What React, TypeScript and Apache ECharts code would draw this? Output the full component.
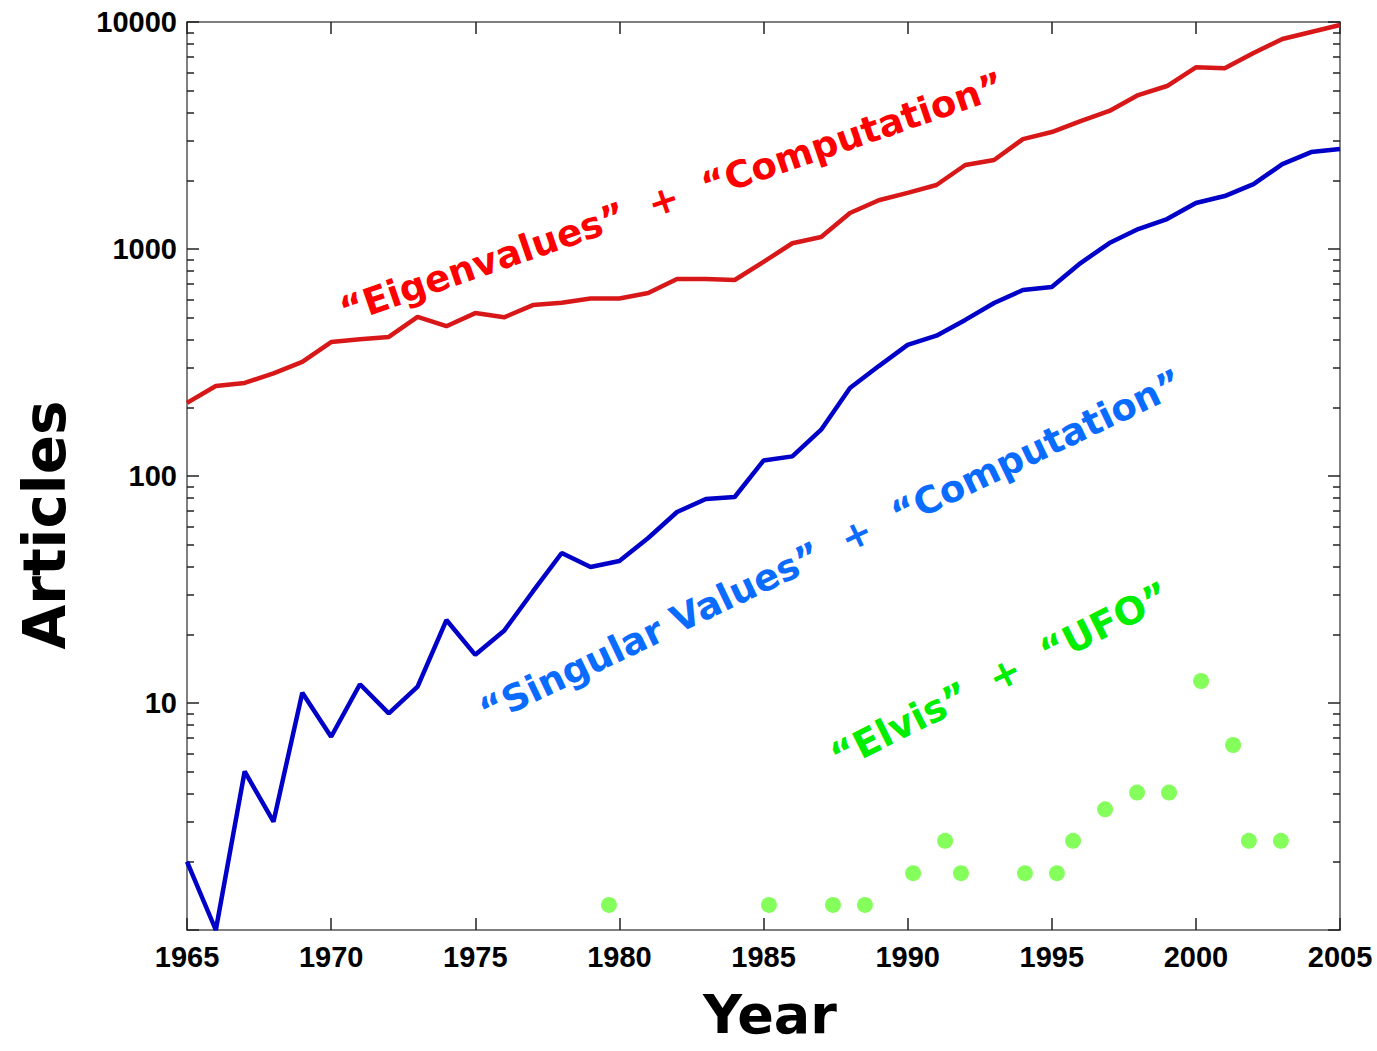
import { useEffect, useRef } from "react";
import * as echarts from "echarts";

const years = [
  1965, 1966, 1967, 1968, 1969, 1970, 1971, 1972, 1973, 1974,
  1975, 1976, 1977, 1978, 1979, 1980, 1981, 1982, 1983, 1984,
  1985, 1986, 1987, 1988, 1989, 1990, 1991, 1992, 1993, 1994,
  1995, 1996, 1997, 1998, 1999, 2000, 2001, 2002, 2003, 2004, 2005,
];

const eigenArticles = [
  210, 249, 257, 283, 318, 389, 400, 410, 502, 457,
  522, 500, 566, 580, 605, 605, 640, 738, 738, 730,
  877, 1060, 1130, 1440, 1640, 1766, 1914, 2344, 2466, 3050,
  3275, 3660, 4055, 4765, 5224, 6316, 6250, 7300, 8420, 9040, 9700,
];

const singularArticles = [
  2.0, 1.0, 5.0, 3.0, 11.1, 7.1, 12.1, 9.0, 11.8, 23.2,
  16.3, 20.8, 31, 45.8, 39.7, 42.2, 53.3, 69.4, 79.2, 80.8,
  117, 122, 160, 244, 305, 378, 415, 487, 578, 660,
  680, 867, 1062, 1224, 1355, 1595, 1711, 1932, 2366, 2673, 2756,
];

const elvisYears = [
  1979.64, 1985.19, 1987.41, 1988.52, 1990.19, 1991.3, 1991.85, 1994.07,
  1995.18, 1995.74, 1996.85, 1997.96, 1999.07, 2000.18, 2001.29, 2001.84, 2002.95,
];
const elvisArticles = [
  1.29, 1.29, 1.29, 1.29, 1.78, 2.47, 1.78, 1.78,
  1.78, 2.47, 3.4, 4.03, 4.03, 12.5, 6.53, 2.47, 2.47,
];

const xMin = 1965;
const xMax = 2005;
const xStep = 5;
const yMin = 1;
const yMax = 10000;

const labelEigen = "\u201CEigenvalues\u201D  +  \u201CComputation\u201D";
const labelSingular = "\u201CSingular Values\u201D  +  \u201CComputation\u201D";
const labelElvis = "\u201CElvis\u201D  +  \u201CUFO\u201D";

export default function App() {
  const ref = useRef<HTMLDivElement>(null);

  useEffect(() => {
    if (!ref.current) return;
    const chart = echarts.init(ref.current, null, { renderer: "svg" });
    const axisColor = "#555555";
    const tickFont = {
      fontFamily: "'Liberation Sans', Arial, sans-serif",
      fontWeight: "bold" as const,
      fontSize: 29,
      color: "#000",
    };
    const annFont = "'DejaVu Sans', sans-serif";
    const textStyle = (text: string, size: number, fill: string) => ({
      text,
      fontFamily: annFont,
      fontWeight: "bold",
      fontSize: size,
      fill,
      align: "center",
      verticalAlign: "middle",
      textAlign: "center",
      textVerticalAlign: "middle",
    });

    const option: any = {
      animation: false,
      backgroundColor: "#ffffff",
      grid: { left: 187, right: 37, top: 22, bottom: 121, containLabel: false },
      xAxis: [
        {
          type: "value",
          min: xMin,
          max: xMax,
          interval: xStep,
          position: "bottom",
          axisLine: { show: true, lineStyle: { color: axisColor, width: 1.5 } },
          axisTick: { show: true, inside: true, length: 12, lineStyle: { color: "#222", width: 1.5 } },
          axisLabel: { ...tickFont, margin: 12, formatter: (v: number) => String(v) },
          splitLine: { show: false },
        },
        {
          type: "value",
          min: xMin,
          max: xMax,
          interval: xStep,
          position: "top",
          axisLine: { show: true, lineStyle: { color: axisColor, width: 1.5 } },
          axisTick: { show: true, inside: true, length: 12, lineStyle: { color: "#222", width: 1.5 } },
          axisLabel: { show: false },
          splitLine: { show: false },
        },
      ],
      yAxis: [
        {
          type: "log",
          logBase: 10,
          min: yMin,
          max: yMax,
          position: "left",
          axisLine: { show: true, lineStyle: { color: axisColor, width: 1.5 } },
          axisTick: { show: true, inside: true, length: 12, lineStyle: { color: "#222", width: 1.5 } },
          minorTick: { show: true, splitNumber: 9, length: 7, lineStyle: { color: "#222", width: 1.5 } },
          axisLabel: {
            ...tickFont,
            margin: 10,
            formatter: (v: number) => (v <= 1 ? "" : String(Math.round(v))),
          },
          splitLine: { show: false },
          minorSplitLine: { show: false },
        },
        {
          type: "log",
          logBase: 10,
          min: yMin,
          max: yMax,
          position: "right",
          axisLine: { show: true, lineStyle: { color: axisColor, width: 1.5 } },
          axisTick: { show: true, inside: true, length: 12, lineStyle: { color: "#222", width: 1.5 } },
          minorTick: { show: true, splitNumber: 9, length: 7, lineStyle: { color: "#222", width: 1.5 } },
          axisLabel: { show: false },
          splitLine: { show: false },
          minorSplitLine: { show: false },
        },
      ],
      series: [
        {
          name: "Eigenvalues",
          type: "line",
          data: years.map((y, i) => [y, eigenArticles[i]]),
          showSymbol: false,
          symbol: "none",
          lineStyle: { color: "#d81818", width: 4.5 },
          itemStyle: { color: "#d81818" },
          clip: true,
          z: 3,
        },
        {
          name: "Singular Values",
          type: "line",
          data: years.map((y, i) => [y, singularArticles[i]]),
          showSymbol: false,
          symbol: "none",
          lineStyle: { color: "#0000c8", width: 4.5 },
          itemStyle: { color: "#0000c8" },
          clip: true,
          z: 3,
        },
        {
          name: "Elvis UFO",
          type: "scatter",
          data: elvisYears.map((y, i) => [y, elvisArticles[i]]),
          symbol: "circle",
          symbolSize: 16,
          itemStyle: { color: "#66ff33" },
          z: 3,
        },
      ],
      graphic: [
        {
          type: "text",
          x: 45,
          y: 525,
          rotation: Math.PI / 2,
          style: textStyle("Articles", 58, "#000"),
        },
        {
          type: "text",
          x: 770,
          y: 1014,
          style: textStyle("Year", 54, "#000"),
        },
        {
          type: "text",
          x: 672,
          y: 198,
          rotation: (19 * Math.PI) / 180,
          z: 10,
          style: textStyle(labelEigen, 37, "#ff0000"),
        },
        {
          type: "text",
          x: 831,
          y: 547,
          rotation: (25.5 * Math.PI) / 180,
          z: 10,
          style: textStyle(labelSingular, 37, "#0a6cff"),
        },
        {
          type: "text",
          x: 1000,
          y: 676,
          rotation: (26.5 * Math.PI) / 180,
          z: 10,
          style: textStyle(labelElvis, 38, "#00ee00"),
        },
      ],
    };

    chart.setOption(option);
    return () => chart.dispose();
  }, []);

  return (
    <div
      ref={ref}
      style={{ position: "absolute", left: 0, top: 0, width: 1377, height: 1051, background: "#fff" }}
    />
  );
}
